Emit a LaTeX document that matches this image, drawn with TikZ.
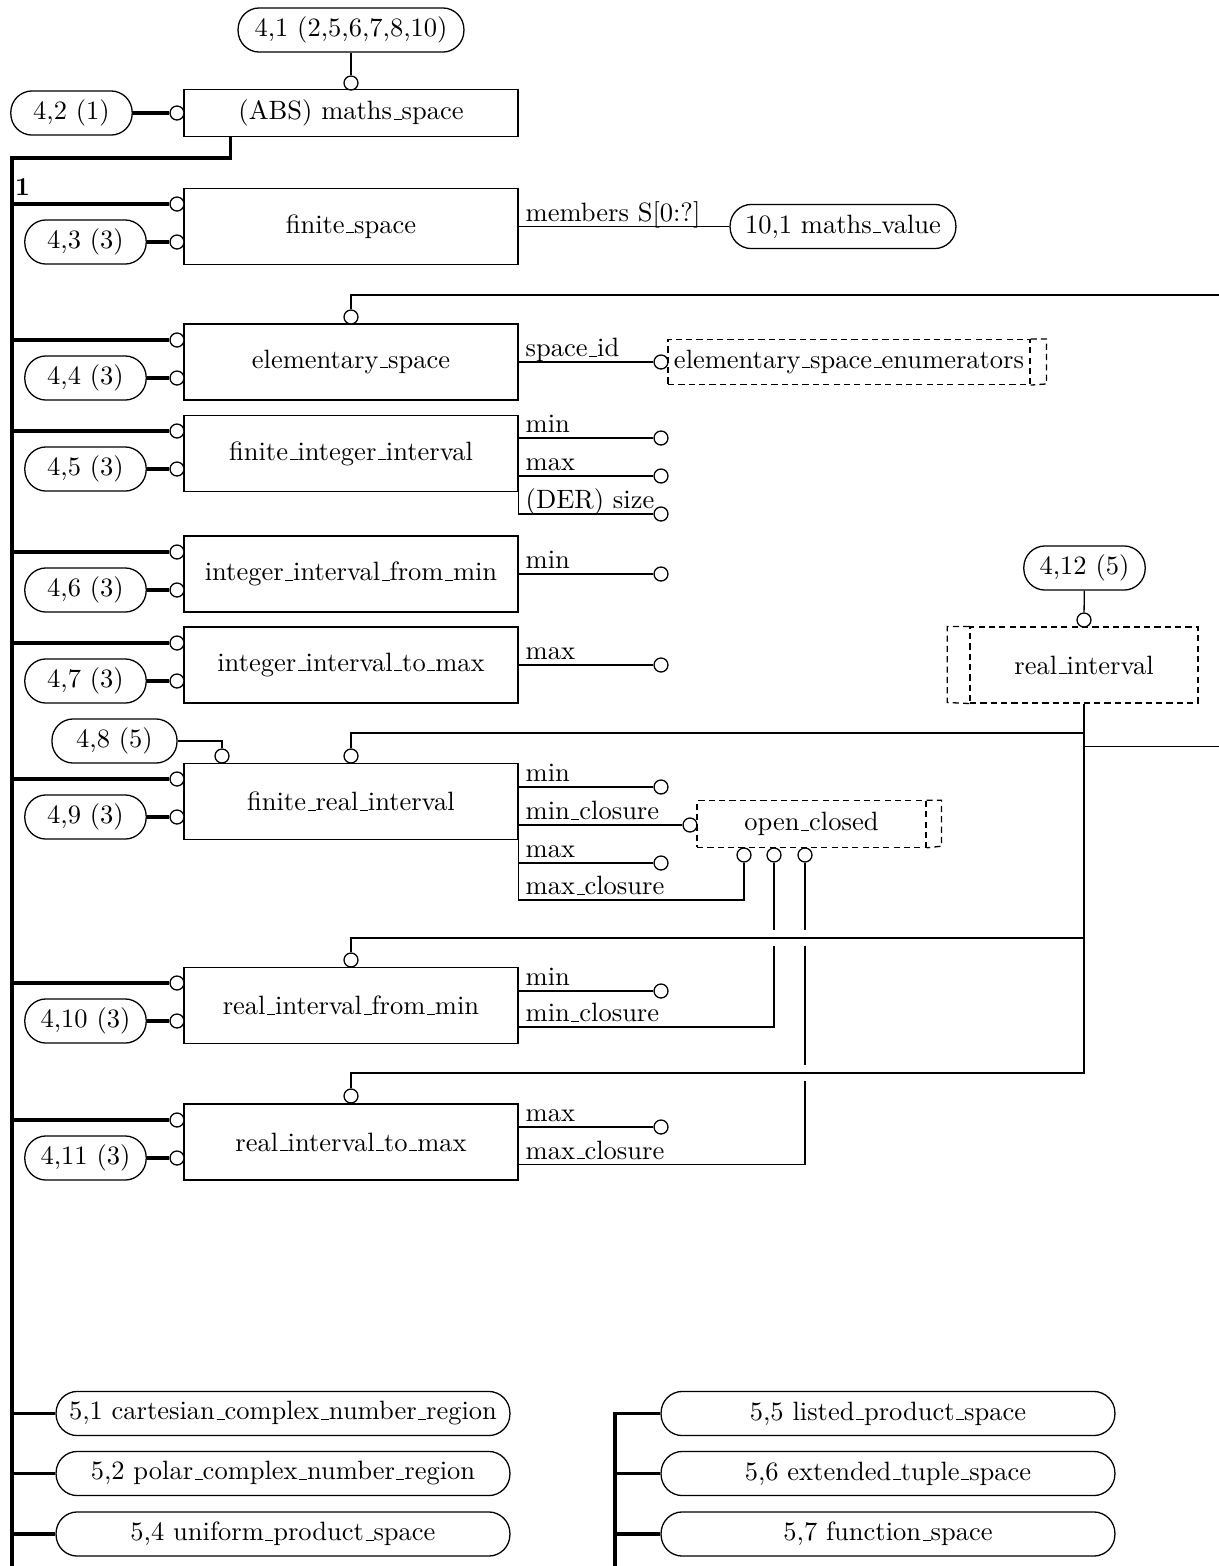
\documentclass[tikz,border=0pt]{standalone}
\usepackage{fontspec}
\usetikzlibrary{positioning}
\renewcommand{\_}{\leavevmode\kern.06em\vbox{\hrule width.3em}}
\begin{document}
\begin{tikzpicture}[x=0.0136cm,y=-0.0136cm,line width=0.5pt,
  every node/.style={font=\fontsize{10.25}{12}\selectfont},
  entity/.style={draw,minimum width=4.54cm,minimum height=1.03cm,inner sep=0pt},
  pill/.style={draw,rounded corners=0.29cm,minimum height=0.6cm,inner sep=0pt},
  typebox/.style={draw,dash pattern=on 2.4pt off 1.6pt,inner sep=0pt},
  typeline/.style={dash pattern=on 2.4pt off 1.6pt},
  ring/.style={draw,circle,fill=white,minimum size=0.19cm,inner sep=0pt},
  heavy/.style={line width=1.3pt},
  attr/.style={anchor=base west,inner sep=0pt,xshift=2.5pt,yshift=2pt}]
  \useasboundingbox (0,0) rectangle (1219,1566);

  % maths_space and its references
  \node[pill,minimum width=3.07cm] (p41) at (351,30) {4,1 (2,5,6,7,8,10)};
  \node[ring] (ms1) at (351,83) {};
  \node[entity,minimum height=0.63cm] (ms) at (351,113) {(ABS) maths\_space};
  \node[pill,minimum width=1.65cm] (p42) at (71.5,113) {4,2 (1)};
  \node[ring] (ms2) at (177,113) {};
  \draw (p41) -- (ms1);
  \draw[heavy] (p42) -- (ms2);

  % supertype trunk
  \coordinate (trunk) at (12,158);
  \coordinate (trunkend) at (12,1566);
  \draw[heavy] (ms.south west) ++(47,0) |- (trunk) -- (trunkend);
  \node[font=\bfseries,anchor=south west,inner sep=1pt] (one) at (12,199) {1};

  % finite_space
  \node[entity] (fs) at (351,226.5) {finite\_space};
  \node[ring] (fs1) at (177,204) {};
  \node[ring] (fs2) at (177,242) {};
  \node[pill,minimum width=1.65cm] (p43) at (85.5,242) {4,3 (3)};
  \node[pill,minimum width=3.07cm] (mv) at (843,226.5) {10,1 maths\_value};
  \draw[heavy] (trunk |- fs1) -- (fs1);
  \draw[heavy] (p43) -- (fs2);
  \draw (fs.east) node[attr]{members S[0:?]} -- (mv);

  % elementary_space
  \node[entity] (es) at (351,362) {elementary\_space};
  \node[ring] (es0) at (351,317) {};
  \node[ring] (es1) at (177,340) {};
  \node[ring] (es2) at (177,378) {};
  \node[pill,minimum width=1.65cm] (p44) at (85.5,378) {4,4 (3)};
  \node[ring] (es3) at (661,362) {};
  \node[typebox,minimum width=4.92cm,minimum height=0.61cm] (ese) at (849,362) {elementary\_space\_enumerators};
  \draw[typeline] (ese.north east) -- ++(16,0) -- ++(0,45) -- (ese.south east);
  \draw (es0) -- ++(0,-22) -- ++(868,0);
  \draw[heavy] (trunk |- es1) -- (es1);
  \draw[heavy] (p44) -- (es2);
  \draw (es.east) node[attr]{space\_id} -- (es3);

  % finite_integer_interval
  \node[entity] (fii) at (351,453.5) {finite\_integer\_interval};
  \node[ring] (fii1) at (177,431) {};
  \node[ring] (fii2) at (177,469) {};
  \node[pill,minimum width=1.65cm] (p45) at (85.5,469) {4,5 (3)};
  \node[ring] (fiimin) at (661,438) {};
  \node[ring] (fiimax) at (661,476) {};
  \node[ring] (fiisize) at (661,514) {};
  \draw[heavy] (trunk |- fii1) -- (fii1);
  \draw[heavy] (p45) -- (fii2);
  \draw (fii.east |- fiimin) node[attr]{min} -- (fiimin);
  \draw (fii.east |- fiimax) node[attr]{max} -- (fiimax);
  \draw (fii.south east) -- (fii.east |- fiisize) node[attr]{(DER) size} -- (fiisize);

  % integer_interval_from_min
  \node[entity] (ifm) at (351,574) {integer\_interval\_from\_min};
  \node[ring] (ifm1) at (177,552) {};
  \node[ring] (ifm2) at (177,590) {};
  \node[pill,minimum width=1.65cm] (p46) at (85.5,590) {4,6 (3)};
  \node[ring] (ifmmin) at (661,574) {};
  \draw[heavy] (trunk |- ifm1) -- (ifm1);
  \draw[heavy] (p46) -- (ifm2);
  \draw (ifm.east) node[attr]{min} -- (ifmmin);

  % integer_interval_to_max
  \node[entity] (itm) at (351,665) {integer\_interval\_to\_max};
  \node[ring] (itm1) at (177,643) {};
  \node[ring] (itm2) at (177,681) {};
  \node[pill,minimum width=1.65cm] (p47) at (85.5,681) {4,7 (3)};
  \node[ring] (itmmax) at (661,665) {};
  \draw[heavy] (trunk |- itm1) -- (itm1);
  \draw[heavy] (p47) -- (itm2);
  \draw (itm.east) node[attr]{max} -- (itmmax);

  % real_interval
  \node[typebox,minimum width=3.10cm,minimum height=1.03cm] (ri) at (1084,665) {real\_interval};
  \draw[typeline] (ri.north west) -- ++(-22,0) -- ++(0,76) -- (ri.south west);
  \node[pill,minimum width=1.65cm] (p412) at (1084.5,568) {4,12 (5)};
  \node[ring] (ri1) at (1084,620) {};
  \draw (p412) -- (ri1);
  \draw (ri.south) ++(0,43) -- ++(135,0);

  % finite_real_interval
  \node[entity] (fri) at (351,801.5) {finite\_real\_interval};
  \node[ring] (fri1) at (177,779) {};
  \node[ring] (fri2) at (177,817) {};
  \node[pill,minimum width=1.65cm] (p49) at (85.5,817) {4,9 (3)};
  \node[pill,minimum width=1.70cm] (p48) at (114.5,741) {4,8 (5)};
  \node[ring] (fr1) at (222,756) {};
  \node[ring] (fr2) at (351,756) {};
  \node[ring] (frimin) at (661,787) {};
  \node[ring] (fricl) at (690,825) {};
  \node[ring] (frimax) at (661,863) {};
  \draw[heavy] (trunk |- fri1) -- (fri1);
  \draw[heavy] (p49) -- (fri2);
  \draw (p48) -| (fr1);
  \draw (fr2) -- ++(0,-23) -| (ri.south);

  % open_closed
  \node[typebox,minimum width=3.11cm,minimum height=0.63cm] (oc) at (811.5,824) {open\_closed};
  \draw[typeline] (oc.north east) -- ++(15,0) -- ++(0,46) -- (oc.south east);
  \node[ring] (oc1) at (744,855) {};
  \node[ring] (oc2) at (774,855) {};
  \node[ring] (oc3) at (805,855) {};

  \draw (fri.east |- frimin) node[attr]{min} -- (frimin);
  \draw (fri.east |- fricl) node[attr]{min\_closure} -- (fricl);
  \draw (fri.east |- frimax) node[attr]{max} -- (frimax);
  \draw (fri.south east) -- ++(0,60) node[attr]{max\_closure} -| (oc1);

  % real_interval_from_min
  \node[entity] (rim) at (351,1005.5) {real\_interval\_from\_min};
  \node[ring] (rim0) at (351,960) {};
  \node[ring] (rim1) at (177,983) {};
  \node[ring] (rim2) at (177,1021) {};
  \node[pill,minimum width=1.65cm] (p410) at (85.5,1021) {4,10 (3)};
  \node[ring] (rimmin) at (661,991) {};
  \draw[heavy] (trunk |- rim1) -- (rim1);
  \draw[heavy] (p410) -- (rim2);
  \draw (rim.east |- rimmin) node[attr]{min} -- (rimmin);
  \draw (rim.south east) ++(0,-17) node[attr]{min\_closure} -| (oc2);

  % real_interval_to_max
  \node[entity] (rtm) at (351,1142) {real\_interval\_to\_max};
  \node[ring] (rtm0) at (351,1096) {};
  \node[ring] (rtm1) at (177,1120) {};
  \node[ring] (rtm2) at (177,1158) {};
  \node[pill,minimum width=1.65cm] (p411) at (85.5,1158) {4,11 (3)};
  \node[ring] (rtmmax) at (661,1127) {};
  \draw[heavy] (trunk |- rtm1) -- (rtm1);
  \draw[heavy] (p411) -- (rtm2);
  \draw (rtm.east |- rtmmax) node[attr]{max} -- (rtmmax);
  \draw (rtm.south east) ++(0,-16) node[attr]{max\_closure} -| (oc3);

  % line crossings
  \foreach \gx/\gy in {774/938,805/938,805/1073}
    \fill[white] (\gx-3,\gy-8) rectangle (\gx+3,\gy+8);
  \draw (rim0) -- ++(0,-22) -| (ri.south);
  \draw (rtm0) -- ++(0,-23) -| (ri.south);

  % page references at the bottom
  \node[pill,minimum width=6.17cm] (p51) at (283,1413.5) {5,1 cartesian\_complex\_number\_region};
  \node[pill,minimum width=6.17cm] (p52) at (283,1473.5) {5,2 polar\_complex\_number\_region};
  \node[pill,minimum width=6.17cm] (p54) at (283,1534) {5,4 uniform\_product\_space};
  \node[pill,minimum width=6.17cm] (p55) at (888,1413.5) {5,5 listed\_product\_space};
  \node[pill,minimum width=6.17cm] (p56) at (888,1473.5) {5,6 extended\_tuple\_space};
  \node[pill,minimum width=6.17cm] (p57) at (888,1534) {5,7 function\_space};
  \coordinate (trunkb) at (615,1566);
  \draw[heavy] (trunk |- p51) -- (p51);
  \draw[heavy] (trunk |- p52) -- (p52);
  \draw[heavy] (trunk |- p54) -- (p54);
  \draw[heavy] (p55) -| (trunkb);
  \draw[heavy] (trunkb |- p56) -- (p56);
  \draw[heavy] (trunkb |- p57) -- (p57);
\end{tikzpicture}
\end{document}
